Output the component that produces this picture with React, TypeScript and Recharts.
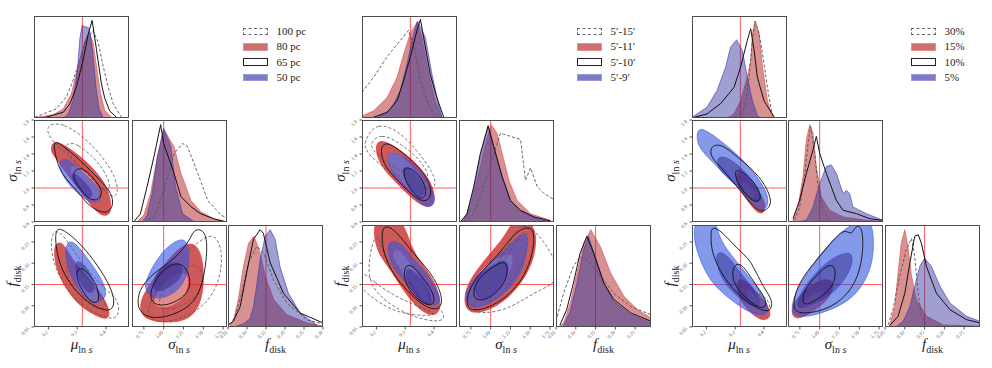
import React from 'react';
import { ComposedChart, Scatter, XAxis, YAxis, ReferenceLine } from 'recharts';

type P = [number, number];
type Diag = { gray: P[]; red: P[]; black: P[]; blue: P[] };
type Cont = { gray: P[][]; red: P[][]; black: P[][]; blue: P[][] };

// axes
const MU_DOMAIN: [number, number] = [9.15, 9.48];
const SIG_DOMAIN: [number, number] = [0.6, 1.8];
const FD_DOMAIN: [number, number] = [0.05, 0.29];
const MU_TICKS = [9.2, 9.3, 9.4];
const SIG_Y_TICKS = [0.6, 0.8, 1.0, 1.2, 1.4, 1.6, 1.8];
const SIG_X_TICKS = [0.75, 1.0, 1.25, 1.5, 1.75];
const FD_TICKS = [0.05, 0.1, 0.15, 0.2, 0.25];
const FD_TICKS_WIDE = [0.05, 0.1, 0.15, 0.2, 0.25, 0.3];
const MU_TRUE = 9.318;
const SIG_TRUE = 1.0;
const FD_TRUE = 0.15;

const LEGEND_PC = ['100 pc', '80 pc', '65 pc', '50 pc'];
const LEGEND_AN = ['5\u2032-15\u2032', '5\u2032-11\u2032', '5\u2032-10\u2032', '5\u2032-9\u2032'];
const LEGEND_PR = ['30%', '15%', '10%', '5%'];

// ---- distance set (pc)
const PC_MU: Diag = {
  gray: [[9.153, .007], [9.228, .09], [9.263, .21], [9.286, .37], [9.309, .57], [9.332, .77], [9.355, .857], [9.373, .74], [9.39, .51], [9.407, .31], [9.425, .14], [9.453, .013]],
  red: [[9.159, .007], [9.217, .033], [9.252, .09], [9.28, .24], [9.303, .51], [9.327, .757], [9.342, .84], [9.355, .74], [9.367, .51], [9.381, .24], [9.396, .073], [9.419, .007]],
  black: [[9.182, 0], [9.252, .057], [9.275, .14], [9.298, .31], [9.321, .57], [9.338, .82], [9.352, .957], [9.367, .67], [9.384, .34], [9.396, .19], [9.413, .07], [9.436, .007]],
  blue: [[9.252, 0], [9.269, .04], [9.286, .173], [9.301, .473], [9.309, .773], [9.317, .907], [9.342, .88], [9.353, .673], [9.365, .307], [9.376, .09], [9.39, .007]],
};
const PC_SIG: Diag = {
  gray: [[.75, 0], [.877, .05], [.962, .21], [1.047, .44], [1.13, .67], [1.238, .77], [1.3, .74], [1.43, .48], [1.557, .21], [1.727, .066], [1.8, .04]],
  red: [[.66, 0], [.749, .066], [.834, .28], [.92, .64], [1.004, .905], [1.13, .74], [1.217, .48], [1.345, .21], [1.47, .1], [1.64, .03], [1.8, 0]],
  black: [[.62, 0], [.706, .08], [.79, .345], [.877, .64], [.962, .954], [1.0, .77], [1.13, .48], [1.217, .25], [1.345, .15], [1.47, .08], [1.64, .03], [1.8, 0]],
  blue: [[.73, 0], [.79, .066], [.855, .28], [.92, .64], [1.0, .92], [1.09, .74], [1.15, .345], [1.24, .08], [1.39, 0]],
};
const PC_FD: Diag = {
  gray: [[.055, .02], [.068, .1], [.086, .33], [.104, .63], [.126, .79], [.143, .73], [.17, .46], [.205, .235], [.258, .07], [.3, .03]],
  red: [[.055, .01], [.064, .056], [.077, .27], [.0905, .59], [.104, .82], [.1186, .89], [.1345, .73], [.148, .5], [.17, .27], [.205, .12], [.258, .04], [.3, .01]],
  black: [[.05, .02], [.064, .056], [.082, .2], [.099, .53], [.117, .86], [.1345, .954], [.143, .92], [.161, .63], [.196, .33], [.24, .137], [.3, .04]],
  blue: [[.07, .005], [.09, .03], [.108, .08], [.117, .2], [.126, .42], [.1345, .66], [.148, .89], [.161, .954], [.174, .86], [.187, .59], [.209, .33], [.24, .137], [.284, .02]],
};
const PC_MS: Cont = {
  gray: [
    [[9.193, 1.75], [9.252, 1.77], [9.334, 1.57], [9.392, 1.35], [9.433, 1.13], [9.445, .94], [9.421, .87], [9.38, 1.02], [9.31, 1.25], [9.24, 1.47], [9.199, 1.61]],
    [[9.263, 1.53], [9.298, 1.53], [9.369, 1.33], [9.41, 1.11], [9.416, .96], [9.386, .98], [9.345, 1.13], [9.287, 1.33], [9.257, 1.45]],
  ],
  red: [
    [[9.211, 1.53], [9.234, 1.55], [9.299, 1.41], [9.369, 1.19], [9.41, .98], [9.421, .74], [9.404, .66], [9.369, .7], [9.322, .92], [9.263, 1.17], [9.217, 1.39], [9.21, 1.43]],
    [[9.281, 1.29], [9.316, 1.23], [9.369, 1.07], [9.386, .9], [9.369, .8], [9.328, .9], [9.293, 1.07], [9.269, 1.21]],
  ],
  black: [
    [[9.217, 1.55], [9.24, 1.53], [9.31, 1.33], [9.38, 1.09], [9.421, .94], [9.427, .78], [9.398, .68], [9.334, .8], [9.31, .94], [9.24, 1.17], [9.223, 1.41]],
    [[9.287, 1.21], [9.322, 1.25], [9.369, 1.07], [9.392, .94], [9.369, .84], [9.334, .88], [9.305, 1.02], [9.287, 1.11]],
  ],
  blue: [
    [[9.24, 1.33], [9.269, 1.35], [9.322, 1.17], [9.369, 1.04], [9.386, .88], [9.369, .82], [9.328, .86], [9.287, .98], [9.252, 1.13], [9.238, 1.25]],
    [[9.281, 1.19], [9.31, 1.13], [9.345, 1.0], [9.357, .9], [9.334, .88], [9.305, 1.0], [9.281, 1.09]],
  ],
};
const PC_MF: Cont = {
  gray: [
    [[9.217, .282], [9.252, .267], [9.293, .224], [9.345, .177], [9.404, .134], [9.445, .114], [9.445, .075], [9.416, .067], [9.357, .083], [9.281, .122], [9.228, .177], [9.205, .239]],
    [[9.263, .2], [9.304, .184], [9.363, .145], [9.404, .106], [9.386, .087], [9.345, .102], [9.293, .134], [9.263, .169]],
  ],
  red: [
    [[9.223, .247], [9.252, .251], [9.281, .208], [9.334, .169], [9.392, .122], [9.416, .083], [9.404, .067], [9.369, .075], [9.31, .098], [9.263, .137], [9.228, .184], [9.22, .224]],
    [[9.293, .188], [9.322, .177], [9.363, .145], [9.381, .114], [9.363, .102], [9.322, .122], [9.293, .153]],
  ],
  black: [
    [[9.228, .286], [9.263, .274], [9.31, .247], [9.357, .208], [9.404, .161], [9.433, .114], [9.421, .087], [9.381, .091], [9.322, .114], [9.263, .161], [9.234, .208], [9.223, .255]],
    [[9.298, .192], [9.334, .184], [9.369, .149], [9.38, .114], [9.357, .102], [9.322, .13], [9.298, .161]],
  ],
  blue: [
    [[9.263, .255], [9.298, .247], [9.339, .208], [9.381, .169], [9.404, .13], [9.392, .114], [9.357, .102], [9.316, .126], [9.275, .169], [9.258, .216]],
    [[9.293, .208], [9.322, .2], [9.351, .169], [9.363, .138], [9.345, .126], [9.316, .145], [9.295, .177]],
  ],
};
const PC_SF: Cont = {
  gray: [
    [[.77, .075], [.92, .059], [1.217, .067], [1.515, .098], [1.706, .153], [1.749, .224], [1.664, .267], [1.515, .263], [1.28, .224], [1.047, .177], [.855, .122]],
    [[.919, .091], [1.13, .091], [1.387, .114], [1.515, .153], [1.472, .192], [1.345, .2], [1.13, .169], [.962, .13]],
  ],
  red: [
    [[.706, .083], [.79, .067], [1.047, .059], [1.345, .067], [1.494, .114], [1.515, .192], [1.43, .247], [1.26, .247], [1.047, .208], [.834, .153], [.706, .114]],
    [[.834, .098], [1.047, .091], [1.26, .114], [1.345, .161], [1.26, .184], [1.09, .169], [.919, .138]],
  ],
  black: [
    [[.664, .106], [.706, .083], [.877, .067], [1.217, .083], [1.472, .122], [1.557, .224], [1.536, .278], [1.38, .282], [1.34, .255], [1.13, .208], [.92, .184], [.7, .145]],
    [[.834, .106], [1.0, .098], [1.217, .114], [1.366, .145], [1.28, .2], [1.09, .2], [.919, .169], [.834, .138]],
  ],
  blue: [
    [[.749, .138], [.79, .169], [.962, .224], [1.13, .251], [1.26, .259], [1.32, .239], [1.32, .192], [1.26, .153], [1.09, .122], [.872, .114]],
    [[.85, .145], [.92, .184], [1.09, .204], [1.24, .2], [1.24, .169], [1.09, .145], [.92, .13]],
  ],
};

// ---- annulus set
const AN_MU: Diag = {
  gray: [[9.15, .25], [9.19, .4], [9.237, .6], [9.283, .76], [9.312, .86], [9.33, .7], [9.353, .37], [9.376, .17], [9.399, .04], [9.422, 0]],
  red: [[9.15, .02], [9.19, .07], [9.237, .2], [9.272, .4], [9.295, .63], [9.318, .83], [9.341, .94], [9.358, .79], [9.382, .43], [9.405, .17], [9.428, .007]],
  black: [[9.19, .007], [9.237, .056], [9.272, .17], [9.295, .37], [9.318, .6], [9.341, .86], [9.353, .967], [9.364, .79], [9.387, .43], [9.41, .2], [9.434, .007]],
  blue: [[9.202, .007], [9.248, .07], [9.283, .27], [9.306, .53], [9.33, .83], [9.343, .95], [9.37, .79], [9.393, .43], [9.413, .17], [9.428, .007]],
};
const AN_SIG: Diag = {
  gray: [[.659, 0], [.786, .08], [.913, .345], [1.04, .674], [1.124, .87], [1.377, .81], [1.44, .41], [1.504, .53], [1.589, .345], [1.673, .28], [1.8, .22]],
  red: [[.659, .016], [.744, .148], [.849, .477], [.934, .77], [1.006, .954], [1.082, .87], [1.145, .674], [1.23, .41], [1.335, .21], [1.504, .08], [1.757, .016]],
  black: [[.617, 0], [.7, .08], [.786, .345], [.87, .674], [.968, .944], [1.04, .74], [1.145, .444], [1.25, .21], [1.377, .115], [1.546, .05], [1.757, .01]],
  blue: [[.617, 0], [.7, .066], [.794, .345], [.879, .674], [.968, .937], [1.04, .72], [1.145, .444], [1.25, .21], [1.377, .11], [1.589, .03], [1.757, 0]],
};
const AN_FD: Diag = {
  gray: [[.05, .056], [.069, .33], [.094, .595], [.111, .69], [.128, .66], [.162, .5], [.196, .33], [.239, .2], [.29, .12]],
  red: [[.056, 0], [.069, .04], [.086, .235], [.103, .53], [.12, .82], [.138, .954], [.162, .79], [.188, .53], [.222, .3], [.256, .17], [.29, .088]],
  black: [[.06, .02], [.077, .17], [.094, .43], [.111, .725], [.128, .89], [.145, .725], [.171, .43], [.196, .27], [.239, .137], [.29, .056]],
  blue: [[.069, .01], [.086, .154], [.103, .43], [.12, .76], [.132, .89], [.149, .69], [.171, .43], [.196, .25], [.239, .12], [.29, .04]],
};
const AN_MS: Cont = {
  gray: [
    [[9.167, 1.607], [9.202, 1.765], [9.272, 1.686], [9.341, 1.449], [9.399, 1.172], [9.41, 1.015], [9.376, .975], [9.318, 1.074], [9.237, 1.212], [9.179, 1.37], [9.156, 1.488]],
    [[9.179, 1.53], [9.214, 1.646], [9.283, 1.53], [9.353, 1.33], [9.387, 1.133], [9.364, 1.074], [9.295, 1.172], [9.225, 1.33], [9.185, 1.449]],
  ],
  red: [
    [[9.196, 1.53], [9.225, 1.567], [9.283, 1.449], [9.353, 1.251], [9.399, 1.015], [9.405, .817], [9.376, .758], [9.33, .857], [9.283, 1.015], [9.225, 1.212], [9.202, 1.37]],
    [[9.237, 1.41], [9.266, 1.449], [9.318, 1.291], [9.364, 1.093], [9.376, .896], [9.347, .857], [9.306, 1.015], [9.26, 1.172], [9.237, 1.291]],
  ],
  black: [
    [[9.214, 1.488], [9.237, 1.547], [9.295, 1.409], [9.358, 1.212], [9.393, 1.015], [9.387, .857], [9.353, .837], [9.306, .975], [9.248, 1.172], [9.219, 1.33]],
    [[9.295, 1.251], [9.324, 1.232], [9.364, 1.093], [9.376, .916], [9.353, .857], [9.318, .975], [9.295, 1.133]],
  ],
  blue: [
    [[9.237, 1.41], [9.266, 1.429], [9.33, 1.291], [9.376, 1.093], [9.405, .896], [9.399, .778], [9.364, .778], [9.318, .935], [9.272, 1.093], [9.243, 1.251]],
    [[9.289, 1.251], [9.318, 1.232], [9.358, 1.093], [9.37, .935], [9.353, .876], [9.318, .975], [9.295, 1.133]],
  ],
};
const AN_MF: Cont = {
  gray: [
    [[9.194, .265], [9.212, .258], [9.224, .223], [9.265, .181], [9.335, .135], [9.406, .1], [9.435, .085], [9.435, .062], [9.371, .065], [9.288, .085], [9.206, .123], [9.171, .165], [9.176, .219]],
    [[9.141, .188], [9.194, .154], [9.253, .127], [9.324, .104], [9.394, .085], [9.406, .077], [9.324, .077], [9.241, .092], [9.171, .127], [9.135, .15]],
  ],
  red: [
    [[9.185, .31], [9.285, .31], [9.312, .258], [9.335, .219], [9.371, .188], [9.4, .158], [9.418, .127], [9.424, .096], [9.408, .077], [9.376, .079], [9.329, .104], [9.288, .142], [9.253, .181], [9.218, .212], [9.196, .242]],
    [[9.259, .231], [9.282, .235], [9.312, .204], [9.353, .169], [9.382, .127], [9.388, .108], [9.365, .108], [9.341, .135], [9.306, .165], [9.271, .196], [9.253, .219]],
  ],
  black: [
    [[9.224, .288], [9.253, .285], [9.294, .254], [9.329, .223], [9.371, .192], [9.4, .165], [9.424, .131], [9.429, .104], [9.412, .09], [9.371, .096], [9.324, .123], [9.282, .154], [9.247, .188], [9.224, .227], [9.218, .265]],
    [[9.3, .196], [9.324, .196], [9.353, .173], [9.388, .142], [9.406, .112], [9.388, .098], [9.347, .112], [9.312, .138], [9.294, .169]],
  ],
  blue: [
    [[9.241, .25], [9.271, .254], [9.3, .235], [9.329, .208], [9.371, .181], [9.406, .142], [9.424, .115], [9.412, .1], [9.376, .1], [9.335, .127], [9.288, .165], [9.253, .196], [9.239, .227]],
    [[9.3, .188], [9.324, .185], [9.359, .162], [9.388, .131], [9.394, .104], [9.371, .1], [9.335, .123], [9.306, .154]],
  ],
};
const AN_SF: Cont = {
  gray: [
    [[.752, .081], [1.113, .085], [1.361, .108], [1.622, .138], [1.839, .154], [1.839, .204], [1.622, .265], [1.448, .292], [1.317, .281], [1.187, .227], [.97, .165], [.796, .112]],
    [[.883, .119], [1.013, .158], [1.187, .212], [1.361, .265], [1.448, .281], [1.491, .25], [1.361, .181], [1.143, .127], [.97, .104]],
  ],
  red: [
    [[.665, .119], [.709, .15], [.839, .188], [1.013, .227], [1.187, .265], [1.274, .3], [1.45, .305], [1.557, .281], [1.578, .25], [1.535, .204], [1.404, .158], [1.23, .119], [1.013, .092], [.796, .081], [.687, .092]],
    [[.796, .165], [.883, .188], [1.057, .212], [1.23, .223], [1.296, .219], [1.274, .188], [1.143, .15], [.97, .119], [.818, .115]],
  ],
  black: [
    [[.687, .104], [.731, .142], [.883, .181], [1.057, .212], [1.187, .242], [1.317, .273], [1.448, .285], [1.535, .281], [1.557, .25], [1.491, .196], [1.361, .15], [1.143, .112], [.926, .092], [.752, .088]],
    [[.774, .127], [.818, .158], [.948, .181], [1.1, .2], [1.187, .204], [1.23, .181], [1.143, .142], [.97, .115], [.818, .112]],
  ],
  blue: [
    [[.665, .119], [.731, .15], [.883, .181], [1.057, .212], [1.23, .242], [1.361, .265], [1.448, .273], [1.47, .25], [1.426, .196], [1.317, .158], [1.143, .123], [.926, .1], [.752, .092]],
    [[.796, .142], [.839, .173], [.97, .188], [1.1, .204], [1.209, .208], [1.23, .185], [1.143, .15], [.991, .119], [.839, .115]],
  ],
};

// ---- percentage set
const PR_MU: Diag = {
  gray: [[9.325, .023], [9.337, .17], [9.348, .4], [9.36, .76], [9.369, .95], [9.383, .83], [9.395, .63], [9.412, .3], [9.426, .07], [9.433, 0]],
  red: [[9.272, 0], [9.296, .04], [9.319, .17], [9.342, .4], [9.354, .56], [9.36, .83], [9.369, .95], [9.383, .83], [9.395, .5], [9.412, .17], [9.43, .007]],
  black: [[9.15, 0], [9.202, .04], [9.249, .14], [9.296, .3], [9.319, .5], [9.342, .76], [9.354, .875], [9.366, .66], [9.377, .4], [9.4, .17], [9.436, .007]],
  blue: [[9.15, .007], [9.202, .105], [9.237, .27], [9.267, .5], [9.284, .695], [9.305, .767], [9.325, .66], [9.342, .4], [9.36, .17], [9.377, .023], [9.389, 0]],
};
const PR_SIG: Diag = {
  gray: [[.684, .016], [.747, .148], [.81, .444], [.853, .773], [.886, .937], [.937, .674], [.979, .345], [1.042, .115], [1.126, .016]],
  red: [[.663, .016], [.726, .148], [.789, .444], [.832, .806], [.874, .954], [.916, .872], [.958, .543], [1.021, .247], [1.126, .115], [1.295, .05], [1.59, .016], [1.8, .007]],
  black: [[.663, .033], [.747, .214], [.832, .477], [.916, .707], [.958, .839], [1.0, .674], [1.084, .477], [1.21, .214], [1.295, .115], [1.463, .082], [1.63, .033], [1.8, .016]],
  blue: [[.74, .005], [.832, .016], [.916, .148], [1.0, .378], [1.084, .543], [1.147, .56], [1.21, .477], [1.295, .28], [1.337, .31], [1.379, .28], [1.42, .148], [1.59, .082], [1.8, .016]],
};
const PR_FD: Diag = {
  gray: [[.058, .02], [.07, .17], [.087, .5], [.104, .76], [.117, .87], [.125, .69], [.134, .33], [.142, .105], [.155, .01]],
  red: [[.062, .02], [.0745, .2], [.083, .53], [.091, .82], [.1, .954], [.108, .79], [.117, .5], [.129, .27], [.155, .105], [.197, .02], [.29, .007]],
  black: [[.062, .013], [.083, .105], [.1, .33], [.113, .63], [.125, .89], [.134, .905], [.142, .82], [.155, .59], [.18, .33], [.214, .17], [.256, .072], [.29, .04]],
  blue: [[.079, .007], [.096, .056], [.113, .2], [.125, .4], [.138, .595], [.15, .676], [.167, .595], [.189, .4], [.214, .235], [.256, .105], [.29, .056]],
};
const PR_MS: Cont = {
  gray: [
    [[9.331, 1.015], [9.354, 1.015], [9.383, .896], [9.377, .817], [9.354, .857], [9.334, .936]],
    [[9.348, .955], [9.366, .936], [9.36, .887], [9.348, .9]],
  ],
  red: [
    [[9.302, 1.212], [9.331, 1.172], [9.377, .995], [9.407, .817], [9.401, .699], [9.377, .699], [9.342, .857], [9.307, 1.015]],
    [[9.319, 1.093], [9.342, 1.074], [9.372, .936], [9.372, .857], [9.348, .896], [9.325, .995]],
  ],
  black: [
    [[9.214, 1.488], [9.249, 1.528], [9.307, 1.37], [9.389, 1.133], [9.424, .896], [9.424, .778], [9.389, .699], [9.354, .817], [9.307, 1.015], [9.249, 1.251], [9.214, 1.37]],
    [[9.296, 1.212], [9.319, 1.212], [9.366, 1.074], [9.395, .896], [9.377, .817], [9.342, .896], [9.307, 1.054]],
  ],
  blue: [
    [[9.167, 1.686], [9.19, 1.705], [9.261, 1.528], [9.342, 1.291], [9.401, 1.015], [9.418, .857], [9.407, .738], [9.377, .738], [9.331, .936], [9.261, 1.172], [9.19, 1.409], [9.167, 1.528]],
    [[9.237, 1.37], [9.272, 1.37], [9.331, 1.212], [9.377, 1.015], [9.395, .857], [9.366, .817], [9.325, .975], [9.267, 1.133], [9.237, 1.251]],
  ],
};
const PR_MF: Cont = {
  gray: [
    [[9.371, .131], [9.4, .123], [9.418, .108], [9.424, .088], [9.406, .085], [9.376, .104]],
    [[9.371, .123], [9.388, .119], [9.388, .104], [9.371, .108]],
  ],
  red: [
    [[9.306, .162], [9.329, .164], [9.359, .142], [9.394, .119], [9.418, .096], [9.424, .073], [9.4, .065], [9.371, .073], [9.329, .1], [9.306, .131]],
    [[9.335, .138], [9.353, .138], [9.382, .119], [9.388, .1], [9.365, .1], [9.341, .115]],
  ],
  black: [
    [[9.218, .285], [9.241, .281], [9.276, .258], [9.306, .235], [9.347, .212], [9.371, .181], [9.4, .142], [9.424, .119], [9.429, .1], [9.418, .085], [9.382, .092], [9.335, .112], [9.288, .142], [9.247, .181], [9.218, .227], [9.215, .265]],
    [[9.294, .196], [9.318, .2], [9.341, .181], [9.371, .15], [9.4, .123], [9.412, .1], [9.388, .092], [9.347, .112], [9.312, .135], [9.288, .165]],
  ],
  blue: [
    [[9.165, .31], [9.23, .31], [9.241, .265], [9.276, .227], [9.324, .188], [9.371, .15], [9.406, .112], [9.418, .088], [9.4, .077], [9.359, .081], [9.312, .1], [9.253, .131], [9.206, .165], [9.171, .219], [9.153, .265]],
    [[9.235, .223], [9.253, .227], [9.282, .212], [9.312, .181], [9.353, .15], [9.382, .123], [9.388, .1], [9.365, .096], [9.324, .112], [9.276, .142], [9.247, .173], [9.235, .204]],
  ],
};
const PR_SF: Cont = {
  gray: [
    [[.752, .108], [.839, .127], [1.004, .142], [1.07, .135], [1.013, .115], [.883, .104], [.774, .096]],
    [[.839, .115], [.926, .127], [.991, .123], [.904, .108]],
  ],
  red: [
    [[.643, .088], [.687, .112], [.839, .142], [1.013, .162], [1.143, .162], [1.187, .146], [1.1, .112], [.926, .088], [.752, .069], [.665, .073]],
    [[.774, .108], [.883, .127], [1.013, .138], [1.078, .131], [1.013, .112], [.883, .1], [.796, .096]],
  ],
  black: [
    [[.665, .104], [.709, .142], [.839, .181], [1.013, .219], [1.187, .258], [1.317, .281], [1.404, .265], [1.448, .288], [1.535, .288], [1.557, .235], [1.491, .165], [1.317, .119], [1.1, .092], [.839, .081], [.687, .085]],
    [[.774, .112], [.818, .142], [.97, .173], [1.1, .196], [1.187, .196], [1.209, .165], [1.122, .135], [.948, .112], [.818, .1]],
  ],
  blue: [
    [[.643, .096], [.687, .127], [.796, .165], [.97, .212], [1.143, .25], [1.317, .281], [1.491, .3], [1.66, .3], [1.687, .25], [1.665, .196], [1.535, .142], [1.317, .104], [1.057, .085], [.839, .073], [.665, .077]],
    [[.709, .104], [.774, .135], [.926, .173], [1.1, .204], [1.274, .223], [1.426, .227], [1.404, .188], [1.274, .15], [1.1, .119], [.883, .1], [.735, .092]],
  ],
};

// layout
const W = 95;
const H = 102;
const YW = 30;
const XH = 36;
const ROWS = [16, 120, 225];
const SERIF = '"Liberation Serif", "DejaVu Serif", serif';
const TRUTH_RED = '#ff5c5c';

const xy = (pts: P[]) => pts.map(([x, y]) => ({ x, y }));
const toBase = (pts: P[]): P[] => {
  const out: P[] = [...pts];
  if (out[0][1] > 0) out.unshift([out[0][0], 0]);
  const last = out[out.length - 1];
  if (last[1] > 0) out.push([last[0], 0]);
  return out;
};
const NoDot = () => <g />;

const xTick = (digits: number) => (p: any) => {
  const { x, y, payload } = p;
  return (
    <text x={x} y={y + 1} transform={`rotate(-45 ${x} ${y + 1})`} textAnchor="end" fontSize={5} fill="#555" fontFamily={SERIF}>
      {Number(payload.value).toFixed(digits)}
    </text>
  );
};
const yTick = (digits: number) => (p: any) => {
  const { x, y, payload } = p;
  return (
    <text x={x} y={y + 2} transform={`rotate(-45 ${x} ${y + 2})`} textAnchor="end" fontSize={5} fill="#555" fontFamily={SERIF}>
      {Number(payload.value).toFixed(digits)}
    </text>
  );
};

function diagItems(d: Diag) {
  const common = { lineType: 'joint' as const, shape: NoDot, isAnimationActive: false };
  return [
    <Scatter key="red" data={xy(toBase(d.red))} lineJointType="linearClosed" line={{ fill: '#b22222', fillOpacity: 0.5, stroke: '#e04848', strokeWidth: 0.6 }} {...common} />,
    <Scatter key="blue" data={xy(toBase(d.blue))} lineJointType="linearClosed" line={{ fill: '#2a2a9a', fillOpacity: 0.45, stroke: '#3535b5', strokeWidth: 0.6 }} {...common} />,
    <Scatter key="gray" data={xy(d.gray)} lineJointType="linear" line={{ fill: 'none', stroke: '#555', strokeWidth: 0.9, strokeDasharray: '3 2' }} {...common} />,
    <Scatter key="black" data={xy(d.black)} lineJointType="linear" line={{ fill: 'none', stroke: '#111', strokeWidth: 1 }} {...common} />,
  ];
}

function contourItems(c: Cont) {
  const common = { lineType: 'joint' as const, lineJointType: 'basisClosed' as const, shape: NoDot, isAnimationActive: false };
  const styles: [string, P[], object][] = [
    ['r0', c.red[0], { fill: '#c03030', fillOpacity: 0.8, stroke: '#ff2a2a', strokeWidth: 0.7 }],
    ['r1', c.red[1], { fill: '#f0b0b0', fillOpacity: 0.6, stroke: '#ff2a2a', strokeWidth: 0.7 }],
    ['b0', c.blue[0], { fill: '#3355dd', fillOpacity: 0.6, stroke: '#3355ee', strokeWidth: 0.6 }],
    ['b1', c.blue[1], { fill: '#2a1f80', fillOpacity: 0.45, stroke: '#3344dd', strokeWidth: 0.6 }],
    ['g0', c.gray[0], { fill: 'none', stroke: '#555', strokeWidth: 0.8, strokeDasharray: '3 2' }],
    ['g1', c.gray[1], { fill: 'none', stroke: '#555', strokeWidth: 0.8, strokeDasharray: '3 2' }],
    ['k0', c.black[0], { fill: 'none', stroke: '#111', strokeWidth: 0.9 }],
    ['k1', c.black[1], { fill: 'none', stroke: '#111', strokeWidth: 0.9 }],
  ];
  return styles.map(([k, pts, line]) => <Scatter key={k} data={xy(pts)} line={line} {...common} />);
}

interface PanelProps {
  left: number;
  top: number;
  xd: [number, number];
  yd: [number, number];
  xt?: number[];
  yt?: number[];
  xDigits?: number;
  yDigits?: number;
  showX?: boolean;
  showY?: boolean;
  children: React.ReactNode;
}

function Panel({ left, top, xd, yd, xt, yt, xDigits = 2, yDigits = 1, showX = false, showY = false, children }: PanelProps) {
  const cw = W + (showY ? YW : 0);
  const ch = H + (showX ? XH : 0);
  return (
    <div style={{ position: 'absolute', left: left - (showY ? YW : 0), top, width: cw, height: ch }}>
      <ComposedChart width={cw} height={ch} margin={{ top: 0, right: 0, bottom: 0, left: 0 }}>
        <XAxis type="number" dataKey="x" domain={xd} ticks={xt} allowDataOverflow hide={!showX} height={XH}
          axisLine={false} tickSize={2.5} tickLine={{ stroke: '#555' }} tick={xTick(xDigits)} interval={0} />
        <YAxis type="number" dataKey="y" domain={yd} ticks={yt} allowDataOverflow hide={!showY} width={YW}
          axisLine={false} tickSize={2.5} tickLine={{ stroke: '#555' }} tick={yTick(yDigits)} interval={0} />
        {children}
      </ComposedChart>
      <div style={{ position: 'absolute', left: showY ? YW : 0, top: 0, width: W, height: H, border: '1.2px solid #4d4d4d', boxSizing: 'border-box', pointerEvents: 'none' }} />
    </div>
  );
}

function MathLabel({ sym, sub, italicS }: { sym: string; sub: string; italicS?: boolean }) {
  return (
    <span style={{ fontFamily: SERIF, fontSize: 15, color: '#222', whiteSpace: 'nowrap' }}>
      <i>{sym}</i>
      <sub style={{ fontSize: 10 }}>{sub}{italicS ? <i>s</i> : null}</sub>
    </span>
  );
}

function XTitle({ cx, children }: { cx: number; children: React.ReactNode }) {
  return <div style={{ position: 'absolute', left: cx - 40, top: 335, width: 80, textAlign: 'center' }}>{children}</div>;
}
function YTitle({ cx, cy, children }: { cx: number; cy: number; children: React.ReactNode }) {
  return <div style={{ position: 'absolute', left: cx - 40, top: cy - 10, width: 80, height: 20, textAlign: 'center', transform: 'rotate(-90deg)' }}>{children}</div>;
}

function LegendBox({ left, labels }: { left: number; labels: string[] }) {
  const swatches: React.CSSProperties[] = [
    { background: '#fff', border: '1px dashed #666' },
    { background: '#cd7070', border: '1px solid #e09090' },
    { background: '#fff', border: '1.3px solid #222' },
    { background: '#7b7bc6', border: '1px solid #9a9ad8' },
  ];
  return (
    <div style={{ position: 'absolute', left, top: 24 }}>
      {labels.map((t, i) => (
        <div key={t} style={{ display: 'flex', alignItems: 'center', height: 15.3 }}>
          <div style={{ width: 25, height: 7.5, boxSizing: 'border-box', ...swatches[i] }} />
          <span style={{ marginLeft: 8.5, fontFamily: SERIF, fontSize: 11, color: '#222', lineHeight: '15px' }}>{t}</span>
        </div>
      ))}
    </div>
  );
}

interface CornerProps {
  cols: number[];
  mu: Diag;
  sig: Diag;
  fd: Diag;
  ms: Cont;
  mf: Cont;
  sf: Cont;
  fdX: [number, number];
  fdXTicks: number[];
  legend: string[];
  legendLeft: number;
}

function Corner({ cols, mu, sig, fd, ms, mf, sf, fdX, fdXTicks, legend, legendLeft }: CornerProps) {
  const vLine = (x: number) => <ReferenceLine key={`v${x}`} x={x} stroke={TRUTH_RED} strokeWidth={1} ifOverflow="hidden" />;
  const hLine = (y: number) => <ReferenceLine key={`h${y}`} y={y} stroke={TRUTH_RED} strokeWidth={1} ifOverflow="hidden" />;
  return (
    <>
      <Panel left={cols[0]} top={ROWS[0]} xd={MU_DOMAIN} yd={[0, 1]}>
        {diagItems(mu)}
        {vLine(MU_TRUE)}
      </Panel>
      <Panel left={cols[0]} top={ROWS[1]} xd={MU_DOMAIN} yd={SIG_DOMAIN} yt={SIG_Y_TICKS} yDigits={1} showY>
        {contourItems(ms)}
        {vLine(MU_TRUE)}
        {hLine(SIG_TRUE)}
      </Panel>
      <Panel left={cols[1]} top={ROWS[1]} xd={SIG_DOMAIN} yd={[0, 1]}>
        {diagItems(sig)}
        {vLine(SIG_TRUE)}
      </Panel>
      <Panel left={cols[0]} top={ROWS[2]} xd={MU_DOMAIN} yd={FD_DOMAIN} xt={MU_TICKS} xDigits={1} yt={FD_TICKS} yDigits={2} showX showY>
        {contourItems(mf)}
        {vLine(MU_TRUE)}
        {hLine(FD_TRUE)}
      </Panel>
      <Panel left={cols[1]} top={ROWS[2]} xd={SIG_DOMAIN} yd={FD_DOMAIN} xt={SIG_X_TICKS} xDigits={2} showX>
        {contourItems(sf)}
        {vLine(SIG_TRUE)}
        {hLine(FD_TRUE)}
      </Panel>
      <Panel left={cols[2]} top={ROWS[2]} xd={fdX} yd={[0, 1]} xt={fdXTicks} xDigits={2} showX>
        {diagItems(fd)}
        {vLine(FD_TRUE)}
      </Panel>
      <XTitle cx={cols[0] + W / 2}><MathLabel sym={'\u03bc'} sub="ln " italicS /></XTitle>
      <XTitle cx={cols[1] + W / 2}><MathLabel sym={'\u03c3'} sub="ln " italicS /></XTitle>
      <XTitle cx={cols[2] + W / 2}><MathLabel sym="f" sub="disk" /></XTitle>
      <YTitle cx={cols[0] - 21} cy={ROWS[1] + H / 2}><MathLabel sym={'\u03c3'} sub="ln " italicS /></YTitle>
      <YTitle cx={cols[0] - 21} cy={ROWS[2] + H / 2}><MathLabel sym="f" sub="disk" /></YTitle>
      <LegendBox left={legendLeft} labels={legend} />
    </>
  );
}

export default function App() {
  return (
    <div style={{ position: 'absolute', left: 0, top: 0, width: 992, height: 368, background: '#fff', overflow: 'hidden' }}>
      <style>{'.recharts-surface { overflow: visible; } .recharts-wrapper { overflow: visible; }'}</style>
      <Corner cols={[34, 131.5, 228]} mu={PC_MU} sig={PC_SIG} fd={PC_FD} ms={PC_MS} mf={PC_MF} sf={PC_SF}
        fdX={[0.05, 0.3]} fdXTicks={FD_TICKS_WIDE} legend={LEGEND_PC} legendLeft={243} />
      <Corner cols={[361.5, 458.5, 556]} mu={AN_MU} sig={AN_SIG} fd={AN_FD} ms={AN_MS} mf={AN_MF} sf={AN_SF}
        fdX={FD_DOMAIN} fdXTicks={FD_TICKS} legend={LEGEND_AN} legendLeft={577} />
      <Corner cols={[691.5, 788, 885]} mu={PR_MU} sig={PR_SIG} fd={PR_FD} ms={PR_MS} mf={PR_MF} sf={PR_SF}
        fdX={FD_DOMAIN} fdXTicks={FD_TICKS} legend={LEGEND_PR} legendLeft={911} />
    </div>
  );
}
